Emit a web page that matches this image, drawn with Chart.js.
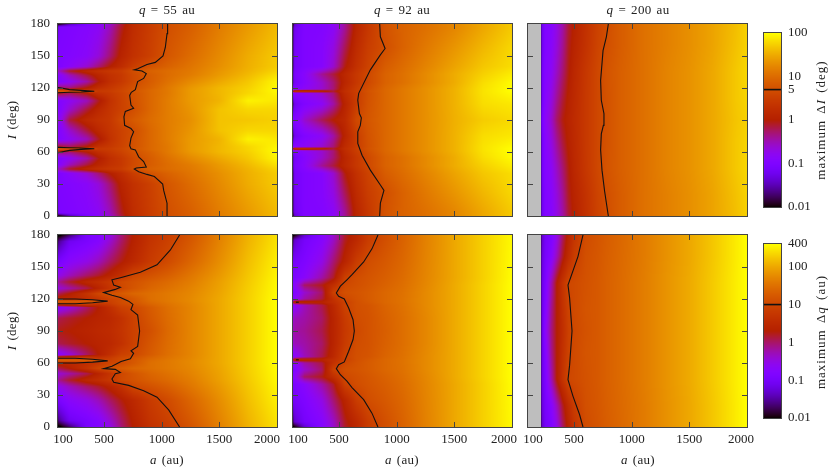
<!DOCTYPE html>
<html>
<head>
<meta charset="utf-8">
<script src="https://cdn.jsdelivr.net/npm/chart.js@4"></script>
<style>
body { margin: 0; background: #fff; width: 830px; height: 475px; overflow: hidden; }
canvas { position: absolute; left: 0; top: 0; }
.lab { position: absolute; font: 13px "Liberation Serif", serif; color: #222; white-space: pre; transform: translate(-50%, -50%); word-spacing: 1.5px; letter-spacing: .3px; }
.rot { transform: translate(-50%, -50%) rotate(-90deg); }
.wide { letter-spacing: 1px; word-spacing: 2px; }
</style>
</head>
<body>
<script>
// axis ticks
const aTicks = [100, 500, 1000, 1500, 2000];
const iTicks = [0, 30, 60, 90, 120, 150, 180];
const barTicksI = [0.01, 0.1, 1, 5, 10, 100];
const barTicksQ = [0.01, 0.1, 1, 10, 100, 400];

// grid columns (a in au)
const aWide = [100, 115, 200, 350, 450, 550, 650, 750, 900, 1050, 1250, 1500, 1750, 2000];
const aOuter = [210, 225, 250, 300, 350, 400, 450, 500, 600, 700, 780, 900, 1100, 1300, 1500, 1700, 1900, 2000];

// max delta I (deg), q = 55
const iRows55 = [0, 3, 30, 40, 44, 48, 54, 60, 62, 63, 65, 72, 80, 90, 100, 108, 115, 117, 118, 120, 126, 132, 136, 140, 150, 177, 180];
const dI55 = [
  [.01,.01,.03,.08,.13,.25,.7,1.6,3,5,7.5,14,24,40],
  [.05,.09,.1,.12,.15,.3,.8,1.7,3,5,7.5,14,24,40],
  [.08,.1,.11,.14,.22,.5,1.2,2,3.3,6,10,18,32,50],
  [.1,.1,.14,.25,.5,1,1.7,3,5.5,8,12,20,34,52],
  [.3,.3,.8,1.5,2,2.5,3,4.8,8,10,13,22,36,58],
  [.12,.13,.3,.7,1.3,2,2.6,4.3,7,10,14,24,40,70],
  [.1,.11,.16,.35,.9,1.8,2.6,4.2,7,11,18,30,48,90],
  [.5,.6,.5,1,1.8,2.5,3.5,5.2,8,13,23,38,55,95],
  [4,4,2.5,2,2.4,2.8,3.8,5.5,9,13,24,38,58,95],
  [9,9,8,7,2.6,3,4,5.8,9,13,24,38,58,95],
  [.8,.8,.6,1,2,2.6,3.6,5.3,9,13,24,38,60,90],
  [.1,.11,.16,.3,.8,2,3.4,5.2,9,14,24,36,85,75],
  [.12,.11,.25,.7,1.4,2.3,3.4,4.8,9,14,22,45,60,60],
  [.25,.15,.7,1.5,2,2.5,4.5,6.5,10,14,20,45,48,55],
  [.12,.11,.25,.7,1.4,2.3,3.4,4.8,9,14,22,45,60,60],
  [.1,.11,.16,.3,.8,2,3.4,5.2,9,14,24,36,85,75],
  [.8,.8,.6,1,2,2.6,3.6,5.3,9,13,24,38,60,90],
  [9,9,8,7,2.6,3,4,5.8,9,13,24,38,58,95],
  [4,4,2.5,2,2.4,2.8,3.8,5.5,9,13,24,38,58,95],
  [.5,.6,.5,1,1.8,2.5,3.5,5.2,8,13,23,38,55,95],
  [.1,.11,.16,.35,.9,1.8,2.6,4.2,7,11,18,30,48,90],
  [.12,.13,.3,.7,1.3,2,2.6,4.3,7,10,14,24,40,70],
  [.3,.3,.8,1.5,2,2.5,3,4.8,8,10,13,22,36,58],
  [.1,.1,.14,.25,.5,1,1.7,3,5.5,8,12,20,34,52],
  [.08,.1,.11,.14,.22,.5,1.2,2,3.3,6,10,18,32,50],
  [.05,.09,.1,.12,.15,.3,.8,1.7,3,5,7.5,14,24,40],
  [.01,.01,.03,.08,.13,.25,.7,1.6,3,5,7.5,14,24,40]
];

// max delta I (deg), q = 92
const iRows92 = [0, 4, 22, 40, 47, 55, 61, 63, 65, 75, 90, 105, 115, 117, 119, 125, 133, 140, 158, 176, 180];
const dI92 = [
  [.01,.04,.1,.11,.15,.4,1.3,2.5,5.5,8,11,17,30,50],
  [.02,.06,.1,.11,.15,.4,1.3,2.5,5.5,8,11,17,30,50],
  [.02,.07,.1,.12,.2,.6,1.6,3,5,8,13,22,38,60],
  [.02,.07,.1,.12,.25,.9,2,3.5,7,10,16,28,48,65],
  [.03,.08,.13,.4,.7,1.4,2.5,4.2,8,11,18,32,55,80],
  [.03,.07,.12,.25,.5,1.3,2.5,4.2,8,11,18,32,65,95],
  [.08,.1,.15,.25,.5,1.6,3,5,9,13,20,35,70,100],
  [1,2.5,2.5,1.5,.8,1.8,3.2,5.5,9,13,20,35,70,100],
  [.08,.12,.15,.25,.5,1.6,3,5.2,9,13,20,35,70,95],
  [.02,.06,.1,.15,.35,1.2,3,5.5,9,13,20,35,65,75],
  [.1,.1,.25,.6,1,1.5,4.2,6,9,13,20,34,52,62],
  [.02,.06,.1,.15,.35,1.2,3,5.5,9,13,20,35,65,75],
  [.08,.12,.15,.25,.5,1.6,3,5.2,9,13,20,35,70,95],
  [1,2.5,2.5,1.5,.8,1.8,3.2,5.5,9,13,20,35,70,100],
  [.08,.1,.15,.25,.5,1.6,3,5,9,13,20,35,70,100],
  [.03,.07,.12,.25,.5,1.3,2.5,4.2,8,11,18,32,65,95],
  [.03,.08,.13,.4,.7,1.4,2.5,4.2,8,11,18,32,55,80],
  [.02,.07,.1,.12,.25,.9,2,3.5,7,10,16,28,48,65],
  [.02,.07,.1,.12,.2,.6,1.6,3,5,8,13,22,38,60],
  [.02,.06,.1,.11,.15,.4,1.3,2.5,5.5,8,11,17,30,50],
  [.01,.04,.1,.11,.15,.4,1.3,2.5,5.5,8,11,17,30,50]
];

// max delta I (deg), q = 200
const iRows200 = [0, 20, 45, 70, 90, 110, 135, 160, 180];
const dI200 = [
  [.02,.06,.1,.12,.2,.35,.7,1.1,2,3.4,4.8,7,11,15,20,28,42,55],
  [.02,.06,.1,.13,.22,.4,.8,1.2,2.1,3.6,5,7,11,15,20,28,44,56],
  [.02,.07,.11,.15,.28,.5,.9,1.4,2.5,4,5.6,7.5,11,16,21,30,48,60],
  [.02,.07,.12,.2,.4,.7,1.1,1.5,2.6,4,5.4,7.5,11,16,21,30,48,58],
  [.03,.08,.14,.25,.55,.9,1.2,1.6,2.6,4,5.3,7.5,11,16,21,30,46,55],
  [.02,.07,.12,.2,.4,.7,1.1,1.5,2.6,4,5.4,7.5,11,16,21,30,48,58],
  [.02,.07,.11,.15,.28,.5,.9,1.4,2.5,4,5.6,7.5,11,16,21,30,48,60],
  [.02,.06,.1,.13,.22,.4,.8,1.2,2.1,3.6,5,7,11,15,20,28,44,56],
  [.02,.06,.1,.12,.2,.35,.7,1.1,2,3.4,4.8,7,11,15,20,28,42,55]
];

// max delta q (au), q = 55
const qRows55 = [0, 6, 25, 38, 44, 50, 55, 60, 62, 64.5, 68, 78, 90, 102, 112, 115.5, 118, 120, 125, 130, 136, 142, 155, 174, 180];
const dQ55 = [
  [.008,.008,.02,.11,.15,.3,.9,2,4.5,7,15,45,120,260],
  [.02,.03,.08,.12,.17,.4,1,2.2,5,8,17,48,125,270],
  [.1,.12,.2,.3,.5,1,1.8,3,6.5,11,24,60,150,320],
  [.25,.3,.5,1,1.5,2.5,4.5,10,14,20,36,75,170,350],
  [.6,.8,1.5,3,4,6,11,14,20,27,42,85,180,370],
  [.3,.4,.6,1.2,2.5,5,10,15,24,32,48,90,190,380],
  [1,1.2,2,5,10,14,18,24,30,38,52,95,195,390],
  [3,3,3,4,5.5,9,11,16,30,38,55,100,200,400],
  [20,20,20,20,15,8,12,16,28,38,55,100,200,400],
  [9,9,9,9,5,7,11,14,24,34,52,100,200,400],
  [.15,.2,.35,1,2,4,8,10,18,30,50,100,200,400],
  [1,1.2,1.5,2,2.5,3,4.5,8,16,28,50,100,200,400],
  [1.5,1.8,2,2.5,3,3.5,5,8,13,26,50,100,200,400],
  [1,1.2,1.5,2,2.5,3,4.5,8,16,28,50,100,200,400],
  [.15,.2,.35,1,2,4,8,10,18,30,50,100,200,400],
  [9,9,9,9,5,7,11,14,24,34,52,100,200,400],
  [20,20,20,20,15,8,12,16,28,38,55,100,200,400],
  [3,3,3,4,5.5,9,11,16,30,38,55,100,200,400],
  [1,1.2,2,5,10,14,18,24,30,38,52,95,195,390],
  [.3,.4,.6,1.2,2.5,5,10,15,24,32,48,90,190,380],
  [.6,.8,1.5,3,4,6,11,14,20,27,42,85,180,370],
  [.25,.3,.5,1,1.5,2.5,4.5,10,14,20,36,75,170,350],
  [.1,.12,.2,.3,.5,1,1.8,3,6.5,11,24,60,150,320],
  [.02,.03,.08,.12,.17,.4,1,2.2,5,8,17,48,125,270],
  [.008,.008,.02,.11,.15,.3,.9,2,4.5,7,15,45,120,260]
];

// max delta q (au), q = 92
const qRows92 = [0, 5, 25, 40, 47, 54, 60, 63, 66, 78, 90, 102, 114, 117, 120, 126, 133, 140, 155, 175, 180];
const dQ92 = [
  [.008,.01,.05,.17,.4,1.5,3,7,13,22,46,100,200,370],
  [.02,.05,.1,.18,.45,1.6,3.2,7,13,22,46,100,200,370],
  [.08,.1,.14,.3,.9,2.5,7,12,17,25,48,100,200,380],
  [.1,.12,.2,.6,1.5,8,12,15,20,28,50,100,200,390],
  [.15,.2,1,1.7,4,10.5,13,16,22,30,52,105,210,400],
  [.1,.15,.4,1,8,13,15,18,25,32,55,105,210,400],
  [.15,.2,.6,1.3,4.5,10,14,18,25,33,55,105,210,400],
  [1.5,4,3,2.5,4,8,13,17,25,33,55,105,210,400],
  [.15,.2,.5,1.2,3,8.5,13,15,23,32,55,105,210,400],
  [.4,.5,.6,1,2.5,6.5,12,14,21,30,52,105,210,400],
  [.5,.6,.7,1.2,2.5,6,10.5,14,20,30,52,105,210,400],
  [.4,.5,.6,1,2.5,6.5,12,14,21,30,52,105,210,400],
  [.15,.2,.5,1.2,3,8.5,13,15,23,32,55,105,210,400],
  [1.5,4,3,2.5,4,8,13,17,25,33,55,105,210,400],
  [.15,.2,.6,1.3,4.5,10,14,18,25,33,55,105,210,400],
  [.1,.15,.4,1,8,13,15,18,25,32,55,105,210,400],
  [.15,.2,1,1.7,4,10.5,13,16,22,30,52,105,210,400],
  [.1,.12,.2,.6,1.5,8,12,15,20,28,50,100,200,390],
  [.08,.1,.14,.3,.9,2.5,7,12,17,25,48,100,200,380],
  [.02,.05,.1,.18,.45,1.6,3.2,7,13,22,46,100,200,370],
  [.008,.01,.05,.17,.4,1.5,3,7,13,22,46,100,200,370]
];

// max delta q (au), q = 200
const qRows200 = [0, 20, 45, 70, 90, 110, 135, 160, 180];
const dQ200 = [
  [.015,.05,.09,.13,.3,1,2.5,5,11.5,15,19,25,40,65,100,170,300,400],
  [.02,.06,.1,.17,.5,1.5,3.5,7,13,16,20,26,40,65,100,170,300,400],
  [.02,.07,.12,.5,2,5,10,11,14,17,21,27,42,68,105,180,310,400],
  [.02,.07,.15,.7,2,4.5,8.5,11,15,17,21,27,42,68,105,180,310,400],
  [.02,.07,.2,.8,2,4,8,10.5,14,17,21,27,42,68,105,180,310,400],
  [.02,.07,.15,.7,2,4.5,8.5,11,15,17,21,27,42,68,105,180,310,400],
  [.02,.07,.12,.5,2,5,10,11,14,17,21,27,42,68,105,180,310,400],
  [.02,.06,.1,.17,.5,1.5,3.5,7,13,16,20,26,40,65,100,170,300,400],
  [.015,.05,.09,.13,.3,1,2.5,5,11.5,15,19,25,40,65,100,170,300,400]
];

// contour lines, [a, I] pairs
const contourI55 = [[1051,0],[1046,12],[1017,24],[1008,30],[936,37],[872,39],[800,41.5],[762,44],[779,45],[866,46],[843,51],[800,55.5],[771,62],[733,63],[722,66],[733,73],[756,79],[733,82],[678,85],[672,93],[684,98],[756,101],[733,104],[722,113],[736,116],[771,118.5],[791,126],[843,129],[866,133.5],[829,136],[762,137],[791,138],[872,142],[944,144],[1011,150],[1031,158],[1046,171],[1051,180]];
const spikeI55low = [[100,64.3],[200,64],[300,63.8],[415,63],[300,62.5],[200,61.5],[130,60],[100,59.3]];
const spikeI55high = [[100,120.5],[130,120],[200,118.5],[300,117.8],[415,117],[300,116.2],[200,116],[100,115.5]];
const contourI92 = [[852,0],[858,12],[889,24],[858,29],[771,43],[699,57],[662,68],[662,79],[684,85],[693,92],[676,96],[662,108.5],[670,115],[771,137],[858,151],[899,157],[858,168],[852,180]];
const contourI200 = [[797,0],[765,23],[742,43],[730,62],[736,77],[754,85],[759,96],[736,108.5],[730,127],[751,155],[780,168],[797,180]];
const dotI200 = [[786,106],[790,106]];
const contourQ55 = [[1155,0],[1060,16],[959,28],[843,34],[713,39],[583,42],[568,45],[597,50],[641,51],[597,54],[496,54.7],[568,57],[647,61.5],[728,64],[756,69],[733,71.5],[791,75.6],[808,90],[791,105],[733,110],[750,115],[713,118],[641,121.5],[568,123.5],[496,126],[597,129],[641,131],[583,133],[568,138],[641,140],[814,145],[959,152],[1075,166],[1155,180]];
const spikeQ55low = [[100,64.5],[250,64.5],[400,63.5],[531,62],[400,60.8],[250,60],[100,60]];
const spikeQ55high = [[100,120],[250,120],[400,119.3],[531,118],[400,116.5],[250,115.5],[100,115.5]];
const contourQ92 = [[837,0],[785,13],[713,25.6],[612,37],[568,43],[511,49],[476,54.7],[496,58.4],[545,61],[583,71],[621,82],[632,90],[621,100.6],[583,111.6],[545,120],[496,122.5],[476,125.6],[511,132],[568,138],[612,142.8],[713,154.7],[785,167],[837,180]];
const spikeQ92low = [[125,63],[150,63]];
const spikeQ92high = [[125,117],[150,117]];
const contourQ200 = [[577,0],[548,11.5],[490,29],[447,44.4],[461,58],[482,90],[461,121],[447,133],[534,160],[577,180]];

const columnsX = [[58, 277], [293, 512], [528, 747]];
const rowsY = [[24, 216], [235, 427]];
const serif = '13px "Liberation Serif", serif';
const inkColor = '#222';
const frameColor = '#444';

// gnuplot default pm3d palette (rgbformulae 7,5,15)
function palette(t) {
    t = Math.min(1, Math.max(0, t));
    return [Math.sqrt(t) * 255, t * t * t * 255, Math.max(0, Math.sin(2 * Math.PI * t)) * 255];
}

function toColorPos(v, vmax) {
    return (Math.log10(v) + 2) / (Math.log10(vmax) + 2);
}

function findCell(list, v) {
    let i = 0;
    while (i < list.length - 2 && list[i + 1] < v) i++;
    return i;
}

const heatPlugin = {
    id: 'heat',
    beforeDatasetsDraw(chart, args, opts) {
        const area = chart.chartArea, w = Math.round(area.width), h = Math.round(area.height);
        const xs = chart.scales.x, ys = chart.scales.y;
        const off = document.createElement('canvas');
        off.width = w; off.height = h;
        const octx = off.getContext('2d');
        const img = octx.createImageData(w, h);
        const logs = opts.values.map(r => r.map(v => Math.log10(v)));
        for (let py = 0; py < h; py++) {
            const iv = ys.getValueForPixel(area.top + py + 0.5);
            const r = findCell(opts.rows, iv);
            const fy = (iv - opts.rows[r]) / (opts.rows[r + 1] - opts.rows[r]);
            for (let px = 0; px < w; px++) {
                const a = xs.getValueForPixel(area.left + px + 0.5);
                let c;
                if (a < opts.cols[0]) {
                    c = [190, 190, 190];   // no data there
                } else {
                    const k = findCell(opts.cols, a);
                    const fx = (a - opts.cols[k]) / (opts.cols[k + 1] - opts.cols[k]);
                    const top = logs[r + 1][k] * (1 - fx) + logs[r + 1][k + 1] * fx;
                    const bot = logs[r][k] * (1 - fx) + logs[r][k + 1] * fx;
                    c = palette(toColorPos(Math.pow(10, bot * (1 - fy) + top * fy), opts.vmax));
                }
                const o = (py * w + px) * 4;
                img.data[o] = c[0]; img.data[o + 1] = c[1]; img.data[o + 2] = c[2]; img.data[o + 3] = 255;
            }
        }
        octx.putImageData(img, 0, 0);
        chart.ctx.drawImage(off, area.left, area.top);
    }
};

const barPlugin = {
    id: 'bar',
    beforeDatasetsDraw(chart, args, opts) {
        const area = chart.chartArea, ctx = chart.ctx, ys = chart.scales.y;
        for (let py = Math.round(area.top); py < area.bottom; py++) {
            const c = palette(toColorPos(ys.getValueForPixel(py + 0.5), opts.vmax));
            ctx.fillStyle = `rgb(${c[0]},${c[1]},${c[2]})`;
            ctx.fillRect(area.left, py, area.width, 1);
        }
    }
};

// frame, inward ticks on all four sides, tick labels
const framePlugin = {
    id: 'frame',
    afterDatasetsDraw(chart, args, opts) {
        const ctx = chart.ctx, a = chart.chartArea, xs = chart.scales.x, ys = chart.scales.y;
        ctx.save();
        ctx.strokeStyle = frameColor;
        ctx.lineWidth = 1;
        ctx.strokeRect(a.left - 0.5, a.top - 0.5, a.width + 1, a.height + 1);
        ctx.beginPath();
        (opts.xTicks || []).forEach(v => {
            const x = Math.round(xs.getPixelForValue(v)) + 0.5;
            ctx.moveTo(x, a.top); ctx.lineTo(x, a.top + 5);
            ctx.moveTo(x, a.bottom); ctx.lineTo(x, a.bottom - 5);
        });
        (opts.yTicks || []).forEach(v => {
            const y = Math.round(ys.getPixelForValue(v)) + 0.5;
            ctx.moveTo(a.left, y); ctx.lineTo(a.left + 5, y);
            ctx.moveTo(a.right, y); ctx.lineTo(a.right - 5, y);
        });
        ctx.stroke();
        ctx.fillStyle = inkColor;
        ctx.font = serif;
        ctx.textBaseline = 'middle';
        if (opts.xLabels) {
            ctx.textAlign = 'center';
            opts.xLabels.forEach((v, i) => ctx.fillText(String(v), xs.getPixelForValue(v) + opts.xShift[i], a.bottom + 13));
        }
        if (opts.yLabels) {
            ctx.textAlign = 'right';
            opts.yLabels.forEach(v => ctx.fillText(String(v), a.left - 8, ys.getPixelForValue(v)));
        }
        if (opts.barLabels) {
            ctx.textAlign = 'left';
            opts.barLabels.forEach(v => ctx.fillText(String(v), a.right + 7, ys.getPixelForValue(v)));
        }
        ctx.restore();
    }
};

function lineSet(points, width) {
    return {
        type: 'scatter', showLine: true, pointRadius: 0, borderColor: '#111', borderWidth: width || 1.1,
        data: points.map(p => ({ x: p[0], y: p[1] }))
    };
}

function newCanvas() {
    const c = document.createElement('canvas');
    c.width = 830; c.height = 475;
    document.body.appendChild(c);
    return c;
}

function makePanel(col, row, cols, rows, values, vmax, lines) {
    const [x0, x1] = columnsX[col], [y0, y1] = rowsY[row];
    const shift2000 = [-10, -8, -6][col];
    new Chart(newCanvas(), {
        type: 'scatter',
        data: { datasets: lines.map(l => lineSet(l)) },
        plugins: [heatPlugin, framePlugin],
        options: {
            responsive: false,
            animation: false,
            layout: { padding: { left: x0, right: 830 - x1, top: y0, bottom: 475 - y1 } },
            scales: {
                x: { type: 'linear', display: false, min: 100, max: 2000 },
                y: { type: 'linear', display: false, min: 0, max: 180 }
            },
            plugins: {
                legend: { display: false },
                tooltip: { enabled: false },
                heat: { cols, rows, values, vmax },
                frame: {
                    xTicks: aTicks.slice(1, -1),
                    yTicks: iTicks.slice(1, -1),
                    xLabels: row === 1 ? aTicks : null,
                    xShift: [5, 0, 0, 0, shift2000],
                    yLabels: col === 0 ? iTicks : null
                }
            }
        }
    });
}

function makeBar(y0, y1, vmax, ticks, lineAt) {
    new Chart(newCanvas(), {
        type: 'scatter',
        data: { datasets: [lineSet([[0, lineAt], [1, lineAt]], 1.6)] },
        plugins: [barPlugin, framePlugin],
        options: {
            responsive: false,
            animation: false,
            layout: { padding: { left: 764, right: 830 - 781, top: y0, bottom: 475 - y1 } },
            scales: {
                x: { type: 'linear', display: false, min: 0, max: 1 },
                y: { type: 'logarithmic', display: false, min: 0.01, max: vmax }
            },
            plugins: {
                legend: { display: false },
                tooltip: { enabled: false },
                bar: { vmax },
                frame: { barLabels: ticks }
            }
        }
    });
}

makePanel(0, 0, aWide, iRows55, dI55, 100, [contourI55, spikeI55low, spikeI55high]);
makePanel(1, 0, aWide, iRows92, dI92, 100, [contourI92]);
makePanel(2, 0, aOuter, iRows200, dI200, 100, [contourI200, dotI200]);
makePanel(0, 1, aWide, qRows55, dQ55, 400, [contourQ55, spikeQ55low, spikeQ55high]);
makePanel(1, 1, aWide, qRows92, dQ92, 400, [contourQ92, spikeQ92low, spikeQ92high]);
makePanel(2, 1, aOuter, qRows200, dQ200, 400, [contourQ200]);
makeBar(33, 207, 100, barTicksI, 5);
makeBar(244, 418, 400, barTicksQ, 10);

function addLabel(html, x, y, cls) {
    const d = document.createElement('div');
    d.className = 'lab ' + (cls || '');
    d.style.left = x + 'px';
    d.style.top = y + 'px';
    d.innerHTML = html;
    document.body.appendChild(d);
}

['55', '92', '200'].forEach((q, i) => {
    const cx = [167, 402, 638][i];
    addLabel(`<i>q</i> = ${q} au`, cx, 10);
    addLabel('<i>a</i> (au)', cx, 460);
});
addLabel('<i>I</i> (deg)', 12, 120, 'rot');
addLabel('<i>I</i> (deg)', 12, 331, 'rot');
addLabel('maximum Δ<i>I</i> (deg)', 821, 120, 'rot wide');
addLabel('maximum Δ<i>q</i> (au)', 821, 332, 'rot wide');
</script>
</body>
</html>
